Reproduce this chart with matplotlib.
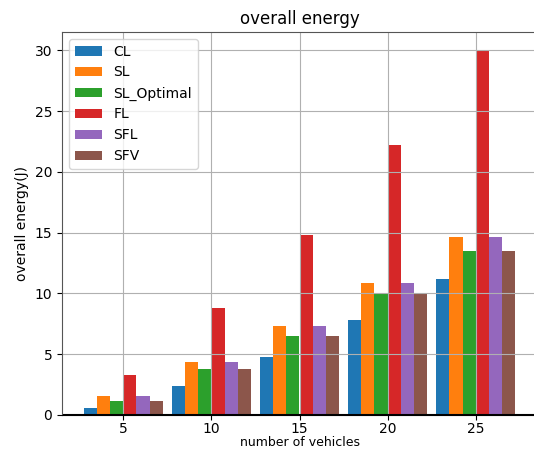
import numpy as np
import matplotlib
matplotlib.use("Agg")
import matplotlib.pyplot as plt

vehicles = [5, 10, 15, 20, 25]
series_names = ["CL", "SL", "SL_Optimal", "FL", "SFL", "SFV"]
cl = [0.55, 2.42, 4.77, 7.8, 11.15]
sl = [1.6, 4.33, 7.33, 10.88, 14.62]
sl_optimal = [1.16, 3.77, 6.5, 9.92, 13.45]
fl = [3.3, 8.76, 14.8, 22.2, 30.0]
sfl = [1.6, 4.33, 7.33, 10.88, 14.62]
sfv = [1.16, 3.77, 6.5, 9.92, 13.45]
all_series = [cl, sl, sl_optimal, fl, sfl, sfv]

colors = ["#1f77b4", "#ff7f0e", "#2ca02c", "#d62728", "#9467bd", "#8c564b"]
width = 0.75

fig = plt.figure(figsize=(5.34, 4.49), dpi=100)
ax = fig.add_axes([62 / 534, (449 - 415) / 449, 475 / 534, (415 - 32) / 449])

x = np.array(vehicles, dtype=float)
for i, (name, vals) in enumerate(zip(series_names, all_series)):
    ax.bar(x + (i - 2.5) * width, vals, width, label=name, color=colors[i])

ax.axhline(0, color="black", linewidth=1.5)
ax.set_xticks(vehicles)
ax.tick_params(axis="x", pad=1.5)
ax.grid(True)
for side in ("left", "top", "right"):
    ax.spines[side].set_color("#555555")
ax.set_title("overall energy")
ax.set_xlabel("number of vehicles", labelpad=0, fontsize=9)
ax.set_ylabel("overall energy(J)")
ax.legend(loc="upper left")

fig.savefig("out.png", dpi=100)
